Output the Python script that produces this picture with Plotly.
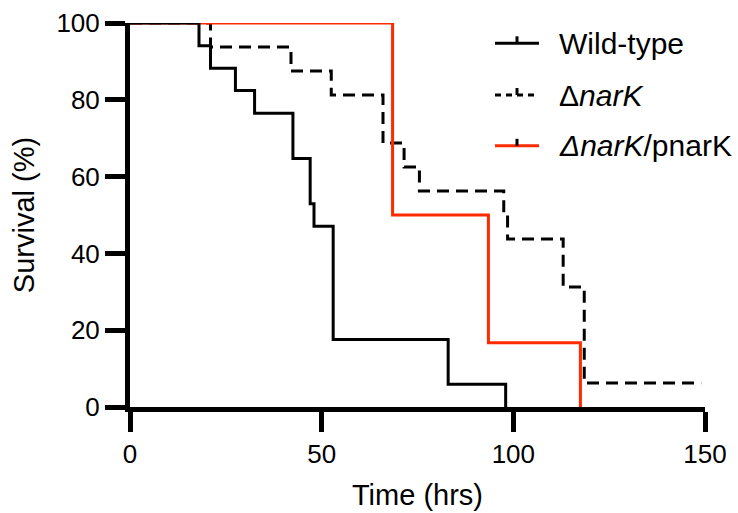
import plotly.graph_objects as go

# Data (Kaplan–Meier step curves)
wt_time = [0, 18, 21, 27.5, 32.5, 42.5, 47, 48, 53, 83, 98]
wt_surv = [100, 94.1, 88.2, 82.4, 76.5, 64.7, 52.9, 47.1, 17.6, 5.9, 0]

narK_time = [0, 21, 42, 52.5, 66, 71.5, 75.5, 97.5, 98.5, 113, 118.5, 149]
narK_surv = [100, 93.75, 87.5, 81.25, 68.75, 62.5, 56.25, 50.0, 43.75, 31.25, 6.25, 6.25]

comp_time = [0, 68.5, 93.5, 117.5]
comp_surv = [100, 50.0, 16.7, 0]

x_ticks = [0, 50, 100, 150]
y_ticks = [0, 20, 40, 60, 80, 100]

RED = "#FF2A00"
FONT = "Arial, Liberation Sans, Helvetica, sans-serif"

fig = go.Figure()
fig.add_trace(go.Scatter(x=narK_time, y=narK_surv, mode="lines", line_shape="hv",
                         line=dict(color="black", width=3, dash="12px,7px"),
                         cliponaxis=False, showlegend=False, name="ΔnarK"))
fig.add_trace(go.Scatter(x=comp_time, y=comp_surv, mode="lines", line_shape="hv",
                         line=dict(color=RED, width=3),
                         cliponaxis=False, showlegend=False, name="ΔnarK/pnarK"))
fig.add_trace(go.Scatter(x=wt_time, y=wt_surv, mode="lines", line_shape="hv",
                         line=dict(color="black", width=3),
                         cliponaxis=False, showlegend=False, name="Wild-type"))

# Manual legend (paper coordinates)
L, T, B = 130, 23, 406.7
W, H = 705 - 130, B - T
def px(xp):
    return (xp - L) / W
def py(yp):
    return (B - yp) / H

legend_rows = [
    ("Wild-type", "black", "solid", 43.3),
    ("Δ<i>narK</i>", "black", "dash", 95.0),
    ("<i>ΔnarK</i>/pnarK", RED, "solid", 145.7),
]
shapes = []
annotations = []
for label, col, dash, yrow in legend_rows:
    shapes.append(dict(type="line", xref="paper", yref="paper",
                       x0=px(495), x1=px(539), y0=py(yrow), y1=py(yrow),
                       line=dict(color=col, width=3, dash="6px,5px" if dash == "dash" else "solid")))
    shapes.append(dict(type="line", xref="paper", yref="paper",
                       x0=px(517), x1=px(517), y0=py(yrow), y1=py(yrow - 7),
                       line=dict(color="black", width=3)))
    annotations.append(dict(text=label, xref="paper", yref="paper",
                            x=px(557), y=py(yrow), xanchor="left", yanchor="middle",
                            showarrow=False, font=dict(family=FONT, size=30, color="black")))

fig.update_layout(
    width=738, height=513,
    margin=dict(l=L, r=738 - 705, t=T, b=513 - B),
    paper_bgcolor="white", plot_bgcolor="white",
    font=dict(family=FONT, color="black"),
    shapes=shapes, annotations=annotations,
    xaxis=dict(range=[0, 150], tickvals=x_ticks, showgrid=False, zeroline=False,
               automargin=False,
               showline=True, linecolor="black", linewidth=5,
               ticks="outside", ticklen=20, tickwidth=5, tickcolor="black",
               tickfont=dict(family=FONT, size=26),
               title=dict(text="Time (hrs)", font=dict(family=FONT, size=29), standoff=18)),
    yaxis=dict(range=[0, 100], tickvals=y_ticks, showgrid=False, zeroline=False,
               automargin=False,
               showline=True, linecolor="black", linewidth=5,
               ticks="outside", ticklen=20, tickwidth=5, tickcolor="black",
               tickfont=dict(family=FONT, size=26),
               title=dict(text="Survival (%)", font=dict(family=FONT, size=29), standoff=15)),
)

fig.write_html("out.html",
               config={"displayModeBar": False, "staticPlot": True},
               post_script="document.body.style.margin='0';document.body.style.overflow='hidden';")
